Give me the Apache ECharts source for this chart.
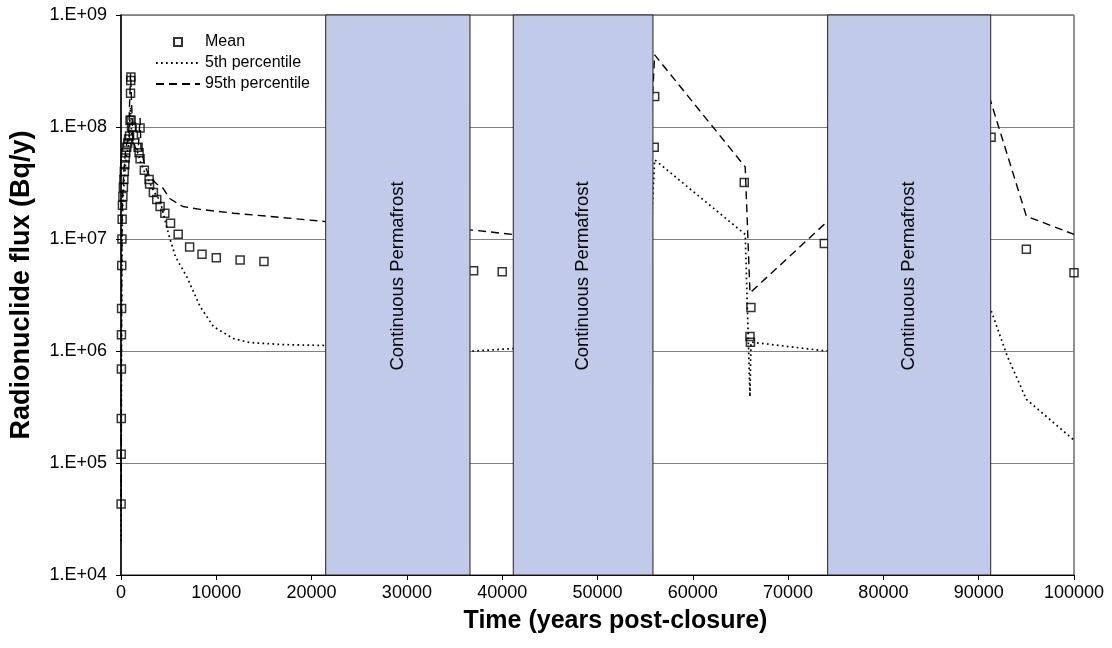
<!DOCTYPE html>
<html><head><meta charset="utf-8">
<script src="https://cdn.jsdelivr.net/npm/echarts@6/dist/echarts.min.js"></script>
<style>html,body{margin:0;padding:0;background:#fff}#c{width:1112px;height:648px}</style>
</head><body><div id="c"></div>
<script>
// ---- data (time in years post-closure, flux in Bq/y) ----
const meanData = [
  [10,4.3e4],[20,1.2e5],[30,2.5e5],[40,6.9e5],[50,1.4e6],[60,2.4e6],[80,5.8e6],[100,1.0e7],
  [120,1.5e7],[150,2.0e7],[200,2.4e7],[250,2.9e7],[300,3.4e7],[350,4.0e7],[400,4.6e7],[450,5.3e7],
  [500,5.9e7],[600,6.6e7],[700,7.2e7],[800,7.8e7],[900,8.3e7],[950,1.15e8],[1000,2.0e8],[1020,2.6e8],
  [1040,2.8e8],[1060,1.15e8],[1100,1.0e8],[1300,8.5e7],[1800,6.6e7],[1900,5.9e7],[2000,9.8e7],[2000,5.2e7],
  [2450,4.1e7],[2950,3.4e7],[3000,3.1e7],[3400,2.6e7],[3750,2.25e7],[4100,1.95e7],[4600,1.7e7],[5200,1.38e7],
  [6000,1.1e7],[7200,8.5e6],[8500,7.3e6],[10000,6.8e6],[12500,6.5e6],[15000,6.3e6],
  [37000,5.2e6],[40000,5.1e6],
  [55950,6.6e7],[56000,1.87e8],[65400,3.2e7],[66100,2.45e6],[66000,1.35e6],[66050,1.2e6],
  [73800,9.1e6],[91300,8.1e7],[95000,8.1e6],[100000,5.0e6]
];
const p5Data = [
  [10,2.0e4],[20,8.0e4],[40,4.0e5],[60,1.8e6],[80,4.5e6],[100,8.0e6],[150,1.6e7],[200,2.2e7],
  [300,3.0e7],[500,5.0e7],[800,7.0e7],[1000,1.5e8],[1100,9.0e7],[1300,7.0e7],[1800,5.8e7],[2000,5.0e7],
  [2500,3.9e7],[3000,3.2e7],[3500,2.6e7],[4100,2.2e7],[5000,1.1e7],[5700,7.0e6],[6900,4.6e6],
  [8300,2.5e6],[9700,1.65e6],[11800,1.29e6],[13500,1.19e6],[17000,1.14e6],[21500,1.12e6],
  [37000,1.0e6],[41000,1.05e6],[55000,1.0e6],[56000,5.1e7],[65500,1.1e7],[66000,3.9e5],[66100,1.2e6],
  [74000,1.0e6],[91300,2.3e6],[93000,9.0e5],[95000,3.7e5],[100000,1.6e5]
];
const p95Data = [
  [10,5.0e4],[20,1.5e5],[40,8.0e5],[60,3.0e6],[80,7.0e6],[100,1.2e7],[150,2.2e7],[200,2.8e7],
  [300,4.0e7],[500,6.5e7],[800,8.5e7],[1000,3.0e8],[1100,2.9e8],[1250,8.0e7],[1500,6.5e7],[1800,6.2e7],
  [2000,1.2e8],[2100,6.5e7],[2500,4.5e7],[3000,3.6e7],[3750,3.1e7],[4400,2.85e7],[5100,2.3e7],
  [6500,1.95e7],[8300,1.84e7],[11800,1.7e7],[16000,1.58e7],[21500,1.43e7],
  [37000,1.2e7],[41000,1.1e7],[55000,1.0e7],[56000,4.4e8],[65500,4.4e7],[66000,3.3e6],[73700,1.33e7],
  [91000,2.0e8],[95000,1.6e7],[100000,1.1e7]
];
const permafrostBands = [[21480,36620],[41160,55820],[74150,91260]];
const bandLabel = 'Continuous Permafrost';
const yTickLabels = ['1.E+04','1.E+05','1.E+06','1.E+07','1.E+08','1.E+09'];
const seriesNames = ['Mean','5th percentile','95th percentile'];

const FONT = 'Liberation Sans, Arial, sans-serif';
const chart = echarts.init(document.getElementById('c'), null, {renderer:'canvas'});
const hiddenSym = {color:'rgba(0,0,0,0)', borderColor:'rgba(0,0,0,0)', borderWidth:0};
chart.setOption({
  animation:false,
  backgroundColor:'#fff',
  grid:{left:121, right:38, top:15, bottom:73, show:true, borderColor:'#222', borderWidth:1, backgroundColor:'transparent'},
  legend:{
    orient:'vertical', left:150, top:29, itemWidth:44, itemHeight:8, itemGap:5,
    textStyle:{fontFamily:FONT, fontSize:16, color:'#000'},
    data:[
      {name:seriesNames[0], icon:'path://M0,0L10,0L10,10L0,10Z'},
      {name:seriesNames[1], itemStyle:hiddenSym},
      {name:seriesNames[2], itemStyle:hiddenSym}
    ]
  },
  xAxis:{
    type:'value', min:0, max:100000, interval:10000,
    name:'Time (years post-closure)', nameLocation:'middle', nameGap:34,
    nameTextStyle:{fontFamily:FONT, fontSize:25, fontWeight:'bold', color:'#000', padding:[0,0,0,36]},
    axisLine:{lineStyle:{color:'#000', width:1}},
    axisTick:{show:true, length:5, lineStyle:{color:'#000'}},
    axisLabel:{fontFamily:FONT, fontSize:18, color:'#000', margin:9, formatter:v=>String(v)},
    splitLine:{show:false}
  },
  yAxis:{
    type:'log', logBase:10, min:1e4, max:1e9,
    name:'Radionuclide flux (Bq/y)', nameLocation:'middle', nameGap:86,
    nameTextStyle:{fontFamily:FONT, fontSize:27, fontWeight:'bold', color:'#000', padding:[0,0,0,20]},
    axisLine:{show:true, lineStyle:{color:'#000', width:1.5}},
    axisTick:{show:true, length:5, lineStyle:{color:'#000'}},
    axisLabel:{fontFamily:FONT, fontSize:18, color:'#000', margin:14,
      formatter:v=>yTickLabels[Math.round(Math.log10(v))-4]},
    splitLine:{show:true, lineStyle:{color:'#808080', width:1}},
    minorTick:{show:false}
  },
  series:[
    {name:seriesNames[1], type:'line', data:p5Data, symbol:'none', z:3,
      lineStyle:{color:'#000', width:1.7, type:[1.7,3.3]}, itemStyle:{color:'#000'}},
    {name:seriesNames[2], type:'line', data:p95Data, symbol:'none', z:3,
      lineStyle:{color:'#000', width:1.4, type:[8,5]}, itemStyle:{color:'#000'}},
    {name:seriesNames[0], type:'scatter', data:meanData, symbol:'rect', symbolSize:8, z:4,
      itemStyle:{color:'rgba(0,0,0,0)', borderColor:'#000', borderWidth:1.5}},
    {name:'bands', type:'custom', z:10, silent:true,
      data:permafrostBands.map(b=>[b[0],b[1],1e6]),
      encode:{x:[0,1], y:2},
      renderItem:function(params, api){
        const cs = params.coordSys;
        const x0 = api.coord([api.value(0), 1e9])[0];
        const x1 = api.coord([api.value(1), 1e9])[0];
        const cx = (x0+x1)/2, cy = cs.y + cs.height/2 - 19;
        return {type:'group', children:[
          {type:'rect', shape:{x:x0, y:cs.y, width:x1-x0, height:cs.height},
            style:{fill:'#C2CAE9', stroke:'#222', lineWidth:1}},
          {type:'text', x:cx, y:cy, rotation:Math.PI/2,
            style:{text:bandLabel, fill:'#000', font:'18.5px '+FONT, align:'center', verticalAlign:'middle'}}
        ]};
      }
    }
  ]
});
</script></body></html>
